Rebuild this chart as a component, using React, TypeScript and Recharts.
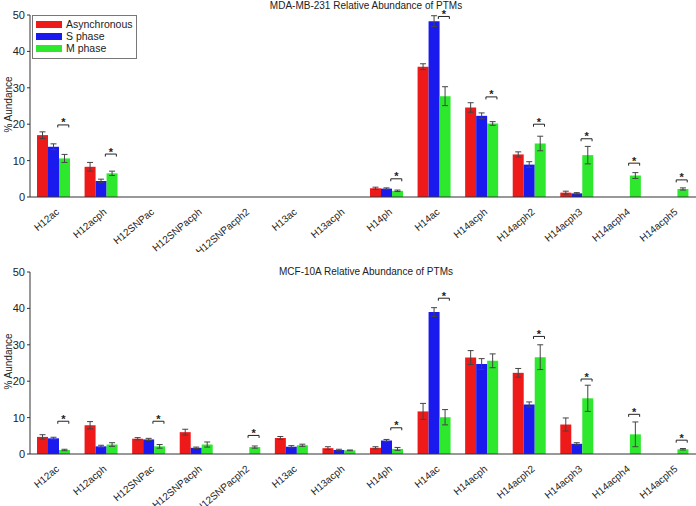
import {
  ComposedChart,
  Bar,
  ErrorBar,
  Scatter,
  XAxis,
  YAxis,
} from 'recharts';

const categories = [
  'H12ac', 'H12acph', 'H12SNPac', 'H12SNPacph', 'H12SNPacph2', 'H13ac', 'H13acph',
  'H14ph', 'H14ac', 'H14acph', 'H14acph2', 'H14acph3', 'H14acph4', 'H14acph5',
];
const yTicks = [0, 10, 20, 30, 40, 50];
const seriesNames = ['Asynchronous', 'S phase', 'M phase'];

// MDA-MB-231
const mdaAsync = [17.0, 8.3, null, null, null, null, null, 2.4, 35.8, 24.6, 11.7, 1.2, null, null];
const mdaAsyncErr = [0.9, 1.2, null, null, null, null, null, 0.3, 0.8, 1.3, 0.7, 0.4, null, null];
const mdaS = [13.8, 4.4, null, null, null, null, null, 2.3, 48.3, 22.3, 8.9, 1.0, null, null];
const mdaSErr = [0.8, 0.5, null, null, null, null, null, 0.2, 1.5, 0.8, 0.8, 0.2, null, null];
const mdaM = [10.6, 6.5, null, null, null, null, null, 1.7, 27.7, 20.2, 14.7, 11.5, 5.9, 2.2];
const mdaMErr = [1.1, 0.6, null, null, null, null, null, 0.2, 2.6, 0.5, 2.0, 2.4, 0.8, 0.3];
const mdaSig = [19.8, 11.8, null, null, null, null, null, 5.0, 49.6, 27.5, 20.0, 16.0, 9.3, 4.7];

// MCF-10A
const mcfAsync = [4.7, 7.9, 4.2, 6.0, null, 4.4, 1.6, 1.7, 11.7, 26.5, 22.3, 8.1, null, null];
const mcfAsyncErr = [0.6, 1.0, 0.3, 0.8, null, 0.4, 0.4, 0.3, 2.2, 1.9, 1.2, 1.8, null, null];
const mcfS = [4.3, 2.1, 4.0, 1.7, null, 2.0, 1.1, 3.7, 39.0, 24.7, 13.6, 2.8, null, null];
const mcfSErr = [0.3, 0.3, 0.3, 0.2, null, 0.3, 0.2, 0.3, 1.2, 1.5, 0.7, 0.3, null, null];
const mcfM = [1.1, 2.6, 2.1, 2.6, 1.9, 2.4, 1.0, 1.4, 10.1, 25.6, 26.6, 15.3, 5.4, 1.3];
const mcfMErr = [0.2, 0.5, 0.5, 0.7, 0.3, 0.3, 0.1, 0.4, 2.1, 1.9, 3.4, 3.6, 3.4, 0.2];
const mcfSig = [9.0, null, 9.0, null, 5.1, null, null, 7.2, 42.8, null, 32.3, 20.6, 10.9, 3.8];

const RED = '#ee1a1a';
const BLUE = '#1a1aee';
const GREEN = '#2ee82e';
const FONT = '"Liberation Sans", Arial, sans-serif';

const build = (a: any[], ae: any[], s: any[], se: any[], m: any[], me: any[], sig: any[]) =>
  categories.map((name, i) => ({
    name,
    async: a[i], asyncErr: ae[i],
    s: s[i], sErr: se[i],
    m: m[i], mErr: me[i],
    sig: sig[i],
  }));

const mdaData = build(mdaAsync, mdaAsyncErr, mdaS, mdaSErr, mdaM, mdaMErr, mdaSig);
const mcfData = build(mcfAsync, mcfAsyncErr, mcfS, mcfSErr, mcfM, mcfMErr, mcfSig);

const XTick = ({ x, y, payload }: any) => (
  <text
    x={x + 6}
    y={y + 8}
    transform={`rotate(-40, ${x + 6}, ${y + 8})`}
    textAnchor="end"
    fontSize={10}
    fill="#222"
    fontFamily={FONT}
  >
    {payload.value}
  </text>
);

// significance bracket between S and M bars, with an asterisk on top
const SigMark = ({ cx, cy, payload }: any) => {
  if (payload == null || payload.sig == null || !isFinite(cy)) return null;
  const x1 = cx + 4;
  const x2 = cx + 15;
  return (
    <g>
      <path d={`M${x1},${cy + 2.5}V${cy}H${x2}V${cy + 2.5}`} stroke="#222" fill="none" strokeWidth={1} />
      <text x={(x1 + x2) / 2} y={cy + 1.5} textAnchor="middle" fontSize={11} fontWeight="bold" fill="#222" fontFamily={FONT}>
        *
      </text>
    </g>
  );
};

const LegendBox = () => {
  const colors = [RED, BLUE, GREEN];
  return (
    <div
      style={{
        position: 'absolute', left: 32, top: 15, width: 100, height: 40,
        border: '1px solid #777', padding: '2px 0 0 3px', background: '#fff', fontFamily: FONT,
      }}
    >
      {seriesNames.map((label, i) => (
        <div key={label} style={{ display: 'flex', alignItems: 'center', height: 12, fontSize: 10.5, color: '#222', whiteSpace: 'nowrap' }}>
          <span style={{ display: 'inline-block', width: 26, height: 7, background: colors[i], marginRight: 4 }} />
          {label}
        </div>
      ))}
    </div>
  );
};

function Panel({ data, height, top }: { data: any[]; height: number; top: number }) {
  return (
    <ComposedChart
      width={696}
      height={height}
      data={data}
      margin={{ top, right: 0, bottom: 0, left: 0 }}
      barGap={0}
      barSize={11}
    >
      <XAxis
        dataKey="name"
        interval={0}
        height={height - top - 182}
        tick={<XTick />}
        tickLine={false}
        axisLine={{ stroke: '#333' }}
      />
      <YAxis
        width={30}
        domain={[0, 50]}
        ticks={yTicks}
        tickSize={3}
        tickLine={{ stroke: '#333' }}
        axisLine={{ stroke: '#333' }}
        tick={{ fontSize: 11, fill: '#222', fontFamily: FONT }}
        interval={0}
      />
      <Bar dataKey="async" name={seriesNames[0]} fill={RED} isAnimationActive={false}>
        <ErrorBar dataKey="asyncErr" stroke="#444" strokeWidth={1} width={3} />
      </Bar>
      <Bar dataKey="s" name={seriesNames[1]} fill={BLUE} isAnimationActive={false}>
        <ErrorBar dataKey="sErr" stroke="#444" strokeWidth={1} width={3} />
      </Bar>
      <Bar dataKey="m" name={seriesNames[2]} fill={GREEN} isAnimationActive={false}>
        <ErrorBar dataKey="mErr" stroke="#444" strokeWidth={1} width={3} />
      </Bar>
      <Scatter dataKey="sig" shape={<SigMark />} isAnimationActive={false} legendType="none" />
    </ComposedChart>
  );
}

export default function App() {
  const label = (text: string, top: number) => (
    <div
      style={{
        position: 'absolute', left: -32, top: top - 6, width: 80, textAlign: 'center',
        transform: 'rotate(-90deg)', fontSize: 10, fontFamily: FONT, color: '#222',
      }}
    >
      {text}
    </div>
  );
  const title = (text: string, top: number) => (
    <div style={{ position: 'absolute', left: 266, top, width: 200, textAlign: 'center', fontSize: 10, fontFamily: FONT, color: '#222', whiteSpace: 'nowrap', lineHeight: '11px' }}>
      {text}
    </div>
  );
  return (
    <div style={{ position: 'absolute', left: 0, top: 0, width: 696, height: 506, background: '#fff' }}>
      <div style={{ position: 'absolute', left: 0, top: 0 }}>
        <Panel data={mdaData} height={252} top={15} />
      </div>
      <div style={{ position: 'absolute', left: 0, top: 253 }}>
        <Panel data={mcfData} height={253} top={19} />
      </div>
      <LegendBox />
      {title('MDA-MB-231 Relative Abundance of PTMs', 0)}
      {title('MCF-10A Relative Abundance of PTMs', 266)}
      {label('% Aundance', 105)}
      {label('% Aundance', 362)}
    </div>
  );
}
